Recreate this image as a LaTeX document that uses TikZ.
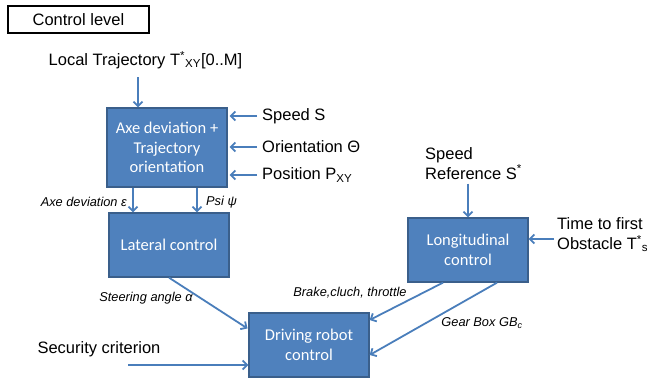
\documentclass[tikz,border=0pt]{standalone}
\usepackage{fontspec}
\setmainfont{Liberation Sans}
\newfontfamily\boxfont{Carlito}
\usetikzlibrary{arrows.meta}
\definecolor{boxblue}{HTML}{4F81BD}
\definecolor{boxedge}{HTML}{3A5F8B}
\definecolor{arrblue}{HTML}{4A7EBB}
\tikzset{
  bluebox/.style={draw=boxedge, line width=1.3pt, fill=boxblue, text=white, minimum width=120pt, align=center, inner sep=0pt, font=\boxfont\fontsize{16.5}{19.5}\selectfont},
  lbl/.style={inner sep=2pt, align=left, font=\fontsize{16.5}{19.5}\selectfont},
  ilbl/.style={inner sep=1pt, font=\itshape\fontsize{12.8}{15}\selectfont},
  arr/.style={draw=arrblue, line width=1.8pt, -{Straight Barb[length=4.5pt,width=9pt]}},
}
\begin{document}
\begin{tikzpicture}[x=1pt,y=-1pt]
\useasboundingbox (0,0) rectangle (647,381);
\node[draw=black, line width=1.5pt, minimum width=141pt, minimum height=27pt, inner sep=0pt, font=\fontsize{16.5}{19.5}\selectfont] (ctl) at (78.5,19.5) {Control level};
\node[lbl] (lt) at (145.5,60) {Local Trajectory T\textsuperscript{*}\textsubscript{XY}[0..M]};
\node[bluebox, minimum height=79pt] (axe) at (167,147.5) {Axe deviation +\\Trajectory\\orientation};
\node[lbl, anchor=west] (speed) at (260,116) {Speed S};
\node[lbl, anchor=west] (orient) at (260,147) {Orientation Θ};
\node[lbl, anchor=west] (pos) at (260,175) {Position P\textsubscript{XY}};
\node[bluebox, minimum height=64pt] (lat) at (169,245) {Lateral control};
\node[bluebox, minimum height=64pt] (lon) at (468,250) {Longitudinal\\control};
\node[bluebox, minimum height=64pt] (drv) at (309,345) {Driving robot\\control};
\node[lbl, anchor=west] (spref) at (423,163.5) {Speed\\Reference S\textsuperscript{*}};
\node[lbl, anchor=west] (ttf) at (555,235) {Time to first\\Obstacle T\textsuperscript{*}\textsubscript{s}};
\node[lbl] (sec) at (99,349) {Security criterion};
\coordinate (secstart) at (128,365);
\node[ilbl, anchor=east] (axedev) at (128,202) {Axe deviation ε};
\node[ilbl, anchor=west] (psi) at (205,202) {Psi ψ};
\node[ilbl] (steer) at (146,298) {Steering angle α};
\node[ilbl] (brake) at (350,293) {Brake,cluch, throttle};
\node[ilbl] (gear) at (482,323) {Gear Box GB\textsubscript{c}};
% connectors
\draw[arr, shorten <=6pt] ([xshift=-29pt]axe.north |- lt.south) -- ([xshift=-29pt]axe.north);
\draw[arr, shorten <=3pt, shorten >=2pt] (speed.west) -- (speed.west -| axe.east);
\draw[arr, shorten <=3pt, shorten >=2pt] (orient.west) -- (orient.west -| axe.east);
\draw[arr, shorten <=3pt, shorten >=2pt] (pos.west) -- (pos.west -| axe.east);
\draw[arr] ([xshift=-34pt]axe.south) -- ([xshift=-34pt]axe.south |- lat.north);
\draw[arr] ([xshift=30pt]axe.south) -- ([xshift=30pt]axe.south |- lat.north);
\draw[arr, shorten >=1pt] (lat.south) -- ([yshift=16pt]drv.west);
\draw[arr] (secstart) -- (secstart -| drv.west);
\draw[arr] ([xshift=-25pt]lon.south) -- ([yshift=25pt]drv.east);
\draw[arr] ([xshift=29pt]lon.south) -- ([yshift=-10pt]drv.east);
\draw[arr, shorten <=2pt] (spref.south -| lon.north) -- (lon.north);
\draw[arr, shorten <=1pt] ([yshift=11pt]lon.east -| ttf.west) -- ([yshift=11pt]lon.east);
\end{tikzpicture}
\end{document}
